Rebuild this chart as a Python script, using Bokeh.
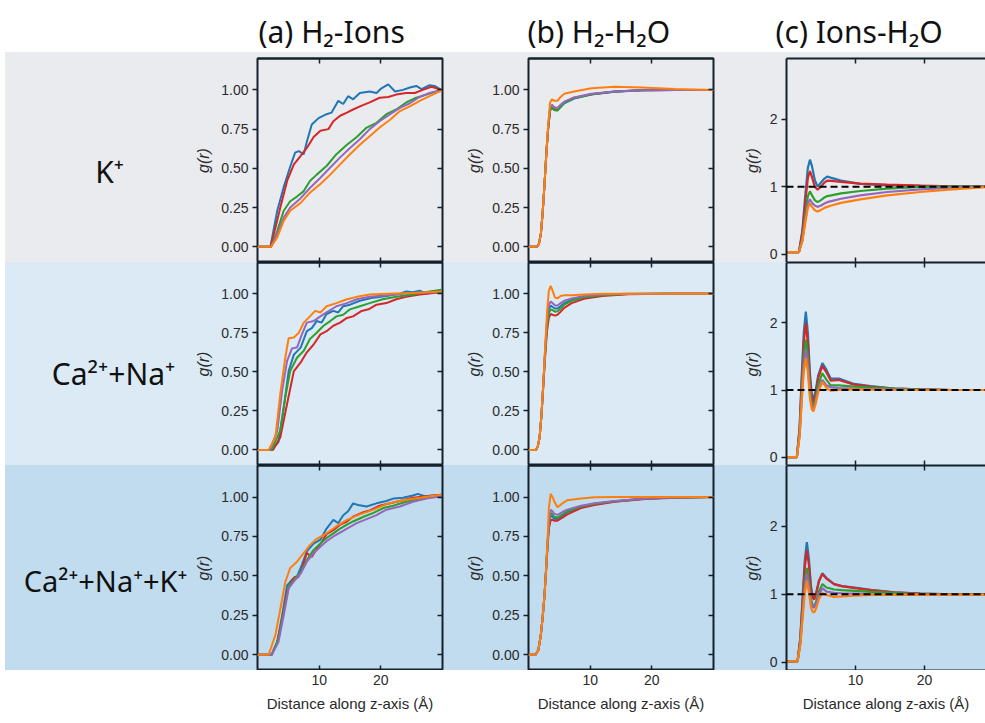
from bokeh.plotting import figure
from bokeh.layouts import row, column
from bokeh.models import Range1d, FixedTicker, LinearAxis, Span, Spacer, PrintfTickFormatter, Label
from bokeh.embed import file_html
from bokeh.resources import INLINE

# ---------------------------------------------------------------- labels
COLUMN_TITLES = ["(a) H₂-Ions", "(b) H₂-H₂O", "(c) Ions-H₂O"]
ROW_LABELS = ["K⁺", "Ca²⁺+Na⁺", "Ca²⁺+Na⁺+K⁺"]
X_LABEL = "Distance along z-axis (Å)"
Y_LABEL = "g(r)"
X_TICKS = [10, 20]
G_TICKS_AB = [0, 0.25, 0.5, 0.75, 1.0]
G_TICKS_C = [0, 1, 2]
SERIES = ["blue", "red", "green", "purple", "orange"]
COLORS = {"blue": "#1f77b4", "red": "#d62728", "green": "#2ca02c",
          "purple": "#9467bd", "orange": "#ff7f0e"}

# ---------------------------------------------------------------- (a) H2-Ions
a1_blue_x = [0, 2.1, 3.2, 4.25, 5.3, 6.1, 6.7, 7.5, 8.0, 8.8, 9.9, 11.2, 12.0, 13.1, 13.9, 14.7, 15.5, 16.6, 18.2, 19.3,
             20.1, 21.2, 22.3, 23.6, 24.7, 25.75, 26.6, 27.9, 28.7, 29.8]
a1_blue_g = [0, 0, 0.23, 0.38, 0.51, 0.60, 0.61, 0.59, 0.67, 0.78, 0.82, 0.845, 0.855, 0.93, 0.91, 0.96, 0.94, 0.98, 0.99, 0.98,
             1.01, 1.035, 0.99, 1.0, 1.015, 1.025, 1.005, 1.03, 1.025, 1.0]
a1_red_x = [0, 2.1, 2.9, 3.7, 4.8, 5.9, 7.0, 8.0, 9.1, 10.2, 11.5, 12.3, 13.4, 14.5, 15.5, 16.9, 18.2, 19.8, 21.2, 22.5,
            24.1, 25.5, 26.8, 28.2, 29.8]
a1_red_g = [0, 0, 0.12, 0.25, 0.42, 0.525, 0.58, 0.63, 0.70, 0.74, 0.75, 0.80, 0.835, 0.855, 0.875, 0.90, 0.92, 0.95, 0.955, 0.97,
            0.98, 0.98, 1.0, 1.02, 1.0]
a1_green_x = [0, 2.2, 3.2, 4.25, 5.3, 6.4, 7.5, 8.5, 9.6, 11.2, 12.8, 14.5, 16.1, 17.7, 19.3, 20.9, 22.5, 24.1, 25.75, 27.4, 29.8]
a1_green_g = [0, 0, 0.10, 0.23, 0.29, 0.32, 0.355, 0.42, 0.46, 0.515, 0.59, 0.65, 0.70, 0.76, 0.79, 0.845, 0.875, 0.92, 0.95, 0.97, 1.0]
a1_purple_x = [0, 2.2, 3.2, 4.25, 5.3, 7.0, 8.5, 10.2, 11.8, 13.4, 15.0, 16.6, 18.2, 19.8, 21.5, 23.1, 24.7, 26.3, 27.9, 29.8]
a1_purple_g = [0, 0, 0.08, 0.185, 0.25, 0.31, 0.375, 0.44, 0.505, 0.57, 0.63, 0.685, 0.75, 0.80, 0.845, 0.885, 0.915, 0.955, 0.98, 1.0]
a1_orange_x = [0, 2.2, 3.2, 4.25, 5.3, 7.0, 8.5, 10.2, 11.8, 13.4, 15.0, 16.6, 18.2, 19.8, 21.5, 23.1, 24.7, 26.3, 27.9, 29.8]
a1_orange_g = [0, 0, 0.06, 0.165, 0.23, 0.28, 0.345, 0.40, 0.46, 0.525, 0.59, 0.65, 0.705, 0.76, 0.81, 0.865, 0.895, 0.93, 0.96, 0.995]

a2_blue_x = [0, 2.3, 3.4, 4.25, 5.05, 5.9, 7.0, 8.0, 8.8, 9.6, 10.4, 11.2, 12.3, 13.1, 13.9, 15.0, 16.6, 18.8, 20.9, 23.1,
             24.1, 25.2, 26.3, 27.4, 28.4, 29.8]
a2_blue_g = [0, 0, 0.05, 0.27, 0.505, 0.61, 0.655, 0.76, 0.78, 0.825, 0.815, 0.87, 0.89, 0.88, 0.92, 0.93, 0.955, 0.975, 0.985, 1.0,
             1.015, 1.01, 1.02, 1.0, 1.015, 1.015]
a2_red_x = [0, 2.5, 3.7, 4.8, 5.9, 7.0, 8.0, 9.1, 10.2, 11.2, 12.3, 13.4, 14.5, 15.5, 16.9, 18.0, 19.3, 20.9, 22.5, 24.1, 26.3, 29.8]
a2_red_g = [0, 0, 0.08, 0.295, 0.505, 0.56, 0.625, 0.675, 0.74, 0.76, 0.795, 0.815, 0.845, 0.855, 0.89, 0.90, 0.93, 0.94, 0.965, 0.98, 0.995, 1.01]
a2_green_x = [0, 2.3, 3.7, 4.5, 5.3, 6.4, 7.5, 8.5, 9.6, 10.7, 11.8, 12.8, 13.9, 15.0, 16.6, 18.2, 20.3, 22.5, 25.2, 27.9, 29.8]
a2_green_g = [0, 0, 0.125, 0.335, 0.505, 0.59, 0.635, 0.71, 0.75, 0.795, 0.825, 0.855, 0.865, 0.90, 0.92, 0.94, 0.965, 0.98, 0.995, 1.015, 1.025]
a2_purple_x = [0, 2.0, 3.2, 4.0, 4.8, 5.6, 6.4, 7.2, 8.0, 9.1, 10.2, 11.2, 12.8, 14.5, 16.1, 18.2, 20.9, 25.2, 29.8]
a2_purple_g = [0, 0, 0.12, 0.38, 0.57, 0.65, 0.655, 0.74, 0.815, 0.825, 0.855, 0.88, 0.92, 0.94, 0.965, 0.98, 0.99, 1.005, 1.01]
a2_orange_x = [0, 1.8, 2.9, 3.7, 4.5, 5.05, 5.9, 6.7, 7.5, 8.5, 9.35, 10.2, 11.2, 12.8, 14.5, 16.1, 18.2, 20.9, 25.2, 29.8]
a2_orange_g = [0, 0, 0.08, 0.36, 0.59, 0.715, 0.72, 0.75, 0.815, 0.855, 0.89, 0.88, 0.92, 0.94, 0.965, 0.98, 0.995, 1.0, 1.005, 1.015]

a3_blue_x = [0, 2.3, 3.2, 4.0, 4.8, 5.6, 6.4, 7.2, 8.0, 9.1, 10.2, 11.2, 12.3, 13.1, 13.9, 14.7, 15.5, 16.3, 17.7, 19.3,
             20.9, 22.0, 23.6, 25.2, 26.0, 27.1, 28.4, 29.8]
a3_blue_g = [0, 0, 0.08, 0.25, 0.44, 0.475, 0.495, 0.57, 0.655, 0.705, 0.73, 0.80, 0.855, 0.835, 0.885, 0.91, 0.96, 0.95, 0.94, 0.96,
             0.975, 0.99, 0.995, 1.01, 1.02, 1.005, 1.01, 1.015]
a3_red_x = [0, 2.3, 3.2, 4.0, 4.8, 5.6, 6.1, 6.6, 7.2, 8.0, 8.8, 9.6, 10.4, 11.2, 12.3, 13.4, 14.5, 15.5, 16.9, 18.2,
            19.8, 21.5, 23.1, 25.2, 27.4, 29.8]
a3_red_g = [0, 0, 0.08, 0.23, 0.40, 0.475, 0.495, 0.49, 0.545, 0.645, 0.62, 0.67, 0.715, 0.765, 0.79, 0.825, 0.845, 0.875, 0.90, 0.915,
            0.945, 0.96, 0.975, 0.995, 1.005, 1.015]
a3_green_x = [0, 2.3, 3.4, 4.25, 5.05, 5.9, 7.0, 8.0, 9.1, 10.2, 11.2, 12.3, 13.4, 14.5, 15.5, 17.2, 18.8, 20.4, 22.0, 24.1, 26.3, 29.8]
a3_green_g = [0, 0, 0.10, 0.27, 0.43, 0.475, 0.525, 0.60, 0.665, 0.705, 0.74, 0.77, 0.80, 0.825, 0.845, 0.875, 0.90, 0.93, 0.945, 0.97, 0.99, 1.01]
a3_purple_x = [0, 2.3, 3.4, 4.25, 5.05, 5.9, 7.0, 8.0, 9.1, 10.2, 11.2, 12.3, 13.4, 14.5, 16.1, 17.7, 19.3, 20.9, 23.1, 25.2, 27.4, 29.8]
a3_purple_g = [0, 0, 0.08, 0.25, 0.42, 0.465, 0.515, 0.59, 0.645, 0.685, 0.72, 0.75, 0.775, 0.80, 0.835, 0.86, 0.885, 0.92, 0.94, 0.97, 0.99, 1.005]
a3_orange_x = [0, 1.8, 2.9, 3.7, 4.5, 5.3, 6.4, 7.5, 8.5, 9.6, 11.2, 12.8, 14.5, 16.6, 18.8, 20.9, 23.6, 26.3, 29.8]
a3_orange_g = [0, 0, 0.125, 0.29, 0.46, 0.55, 0.59, 0.645, 0.695, 0.735, 0.77, 0.815, 0.855, 0.89, 0.92, 0.955, 0.98, 0.995, 1.015]

# ---------------------------------------------------------------- (b) H2-H2O
b1_x = [0, 1.4, 1.7, 2.0, 2.3, 2.6, 2.9, 3.2, 3.5, 3.8, 4.2, 4.7, 5.2, 5.8, 7.4, 10.2, 14, 18.4, 23.8, 30]
b1_blue = [0, 0, 0.02, 0.08, 0.22, 0.40, 0.60, 0.76, 0.875, 0.89, 0.875, 0.87, 0.89, 0.915, 0.945, 0.97, 0.988, 0.997, 1.0, 1.0]
b1_red = [0, 0, 0.02, 0.08, 0.22, 0.40, 0.60, 0.76, 0.87, 0.885, 0.875, 0.875, 0.895, 0.92, 0.95, 0.972, 0.99, 0.998, 1.0, 1.0]
b1_green = [0, 0, 0.02, 0.08, 0.22, 0.40, 0.60, 0.76, 0.87, 0.885, 0.87, 0.868, 0.892, 0.918, 0.947, 0.972, 0.99, 0.997, 1.0, 1.0]
b1_purple = [0, 0, 0.02, 0.08, 0.22, 0.40, 0.60, 0.77, 0.89, 0.905, 0.89, 0.885, 0.905, 0.925, 0.952, 0.975, 0.99, 0.997, 1.0, 1.0]
b1_orange = [0, 0, 0.02, 0.08, 0.22, 0.40, 0.60, 0.78, 0.92, 0.94, 0.93, 0.93, 0.955, 0.975, 0.99, 1.01, 1.02, 1.015, 1.005, 1.0]

b2_x = [0, 1.2, 1.5, 1.8, 2.1, 2.4, 2.7, 3.0, 3.3, 3.6, 3.9, 4.3, 4.7, 5.2, 5.8, 7.0, 9.0, 12, 16, 22, 30]
b2_blue = [0, 0, 0.02, 0.08, 0.22, 0.42, 0.63, 0.81, 0.90, 0.925, 0.915, 0.905, 0.905, 0.92, 0.94, 0.96, 0.98, 0.992, 0.998, 1.0, 1.0]
b2_red = [0, 0, 0.02, 0.08, 0.22, 0.41, 0.60, 0.76, 0.845, 0.87, 0.865, 0.86, 0.865, 0.885, 0.91, 0.94, 0.968, 0.985, 0.996, 1.0, 1.0]
b2_green = [0, 0, 0.02, 0.08, 0.22, 0.42, 0.62, 0.79, 0.875, 0.90, 0.895, 0.885, 0.888, 0.905, 0.93, 0.955, 0.978, 0.99, 0.998, 1.0, 1.0]
b2_purple = [0, 0, 0.02, 0.08, 0.22, 0.42, 0.64, 0.83, 0.93, 0.95, 0.94, 0.925, 0.925, 0.94, 0.955, 0.97, 0.985, 0.995, 1.0, 1.0, 1.0]
b2_orange = [0, 0, 0.02, 0.08, 0.22, 0.42, 0.66, 0.88, 1.02, 1.05, 1.02, 0.975, 0.97, 0.985, 0.99, 0.99, 0.995, 1.0, 1.0, 1.0, 1.0]

b3_x = [0, 1.15, 1.6, 2.0, 2.3, 2.6, 2.85, 3.06, 3.3, 3.6, 3.9, 4.15, 4.7, 5.5, 6.3, 8.5, 10.7, 14, 19, 24, 30]
b3_blue = [0, 0, 0.03, 0.125, 0.24, 0.38, 0.54, 0.68, 0.82, 0.885, 0.875, 0.862, 0.86, 0.88, 0.905, 0.935, 0.955, 0.972, 0.99, 0.997, 1.0]
b3_red = [0, 0, 0.03, 0.125, 0.24, 0.38, 0.53, 0.67, 0.80, 0.855, 0.855, 0.85, 0.85, 0.87, 0.89, 0.93, 0.95, 0.97, 0.988, 0.996, 1.0]
b3_green = [0, 0, 0.03, 0.125, 0.24, 0.38, 0.54, 0.69, 0.83, 0.898, 0.89, 0.875, 0.87, 0.89, 0.91, 0.94, 0.958, 0.974, 0.99, 0.997, 1.0]
b3_purple = [0, 0, 0.03, 0.125, 0.24, 0.38, 0.54, 0.69, 0.84, 0.92, 0.91, 0.895, 0.887, 0.905, 0.92, 0.945, 0.96, 0.975, 0.99, 0.997, 1.0]
b3_orange = [0, 0, 0.03, 0.125, 0.24, 0.38, 0.54, 0.70, 0.93, 1.02, 1.0, 0.975, 0.935, 0.96, 0.98, 0.99, 0.998, 1.0, 1.0, 1.0, 1.0]

# ---------------------------------------------------------------- (c) Ions-H2O
c1_x = [0, 1.8, 2.3, 2.7, 3.1, 3.4, 3.7, 4.1, 4.5, 5.0, 5.5, 5.9, 6.5, 7.9, 10.7, 14.6, 19.4, 24, 30]
c1_blue = [0.03, 0.03, 0.35, 0.85, 1.28, 1.40, 1.30, 1.10, 1.00, 1.06, 1.12, 1.15, 1.13, 1.09, 1.04, 1.02, 1.01, 1.0, 1.0]
c1_red = [0.03, 0.03, 0.31, 0.74, 1.13, 1.23, 1.14, 1.00, 0.955, 1.0, 1.06, 1.09, 1.085, 1.07, 1.045, 1.03, 1.015, 1.005, 1.0]
c1_green = [0.03, 0.03, 0.23, 0.56, 0.86, 0.93, 0.87, 0.80, 0.77, 0.80, 0.84, 0.86, 0.87, 0.90, 0.935, 0.97, 0.995, 1.0, 1.0]
c1_purple = [0.03, 0.03, 0.20, 0.49, 0.75, 0.81, 0.76, 0.72, 0.70, 0.72, 0.75, 0.77, 0.785, 0.82, 0.87, 0.92, 0.96, 0.985, 1.0]
c1_orange = [0.03, 0.03, 0.19, 0.45, 0.69, 0.75, 0.70, 0.65, 0.63, 0.655, 0.685, 0.70, 0.72, 0.76, 0.81, 0.87, 0.92, 0.96, 1.0]

c2_x = [0, 1.5, 1.9, 2.2, 2.5, 2.8, 3.1, 3.4, 3.65, 3.9, 4.2, 4.6, 5.2, 5.8, 6.4, 7.6, 9.8, 12.2, 15.6, 19.4, 24, 30]
c2_blue = [0, 0, 0.45, 1.2, 1.85, 2.17, 1.85, 1.25, 0.95, 0.85, 0.98, 1.22, 1.40, 1.30, 1.17, 1.17, 1.09, 1.06, 1.02, 1.01, 1.0, 1.0]
c2_red = [0, 0, 0.41, 1.1, 1.7, 2.0, 1.7, 1.15, 0.88, 0.80, 0.93, 1.18, 1.36, 1.26, 1.14, 1.15, 1.08, 1.05, 1.02, 1.01, 1.0, 1.0]
c2_green = [0, 0, 0.36, 0.97, 1.5, 1.75, 1.5, 1.02, 0.80, 0.75, 0.86, 1.08, 1.25, 1.15, 1.07, 1.07, 1.05, 1.035, 1.02, 1.005, 1.0, 1.0]
c2_purple = [0, 0, 0.33, 0.88, 1.37, 1.60, 1.37, 0.94, 0.76, 0.72, 0.82, 1.01, 1.15, 1.07, 1.04, 1.03, 1.02, 1.015, 1.01, 1.0, 1.0, 1.0]
c2_orange = [0, 0, 0.30, 0.82, 1.27, 1.48, 1.27, 0.88, 0.72, 0.68, 0.78, 0.97, 1.12, 1.03, 0.99, 1.0, 1.01, 1.005, 1.0, 1.0, 1.0, 1.0]

c3_x = [0, 1.6, 2.0, 2.35, 2.65, 2.95, 3.25, 3.55, 3.8, 4.0, 4.3, 4.7, 5.2, 5.8, 6.9, 8.0, 9.9, 12.2, 15.6, 19.4, 24, 30]
c3_blue = [0.01, 0.01, 0.36, 0.98, 1.5, 1.77, 1.52, 1.12, 0.97, 0.93, 1.02, 1.2, 1.31, 1.24, 1.15, 1.12, 1.10, 1.065, 1.03, 1.01, 1.0, 1.0]
c3_red = [0.01, 0.01, 0.34, 0.92, 1.4, 1.65, 1.43, 1.07, 0.95, 0.92, 1.01, 1.19, 1.30, 1.23, 1.15, 1.12, 1.09, 1.06, 1.03, 1.01, 1.0, 1.0]
c3_green = [0.01, 0.01, 0.29, 0.77, 1.18, 1.39, 1.2, 0.92, 0.84, 0.82, 0.89, 1.04, 1.15, 1.10, 1.07, 1.06, 1.05, 1.035, 1.02, 1.0, 1.0, 1.0]
c3_purple = [0.01, 0.01, 0.27, 0.72, 1.1, 1.30, 1.12, 0.88, 0.81, 0.80, 0.86, 0.99, 1.09, 1.04, 1.02, 1.015, 1.01, 1.0, 1.0, 0.995, 0.995, 0.995]
c3_orange = [0.01, 0.01, 0.25, 0.67, 1.02, 1.20, 1.03, 0.80, 0.74, 0.73, 0.79, 0.93, 1.02, 0.99, 0.96, 0.97, 0.98, 0.99, 0.99, 0.99, 0.99, 0.99]

# per-panel series tables (row-major), built from the lists above
PANELS = [
    [
        {"blue": (a1_blue_x, a1_blue_g), "red": (a1_red_x, a1_red_g), "green": (a1_green_x, a1_green_g),
         "purple": (a1_purple_x, a1_purple_g), "orange": (a1_orange_x, a1_orange_g)},
        {s: (b1_x, v) for s, v in zip(SERIES, [b1_blue, b1_red, b1_green, b1_purple, b1_orange])},
        {s: (c1_x, v) for s, v in zip(SERIES, [c1_blue, c1_red, c1_green, c1_purple, c1_orange])},
    ],
    [
        {"blue": (a2_blue_x, a2_blue_g), "red": (a2_red_x, a2_red_g), "green": (a2_green_x, a2_green_g),
         "purple": (a2_purple_x, a2_purple_g), "orange": (a2_orange_x, a2_orange_g)},
        {s: (b2_x, v) for s, v in zip(SERIES, [b2_blue, b2_red, b2_green, b2_purple, b2_orange])},
        {s: (c2_x, v) for s, v in zip(SERIES, [c2_blue, c2_red, c2_green, c2_purple, c2_orange])},
    ],
    [
        {"blue": (a3_blue_x, a3_blue_g), "red": (a3_red_x, a3_red_g), "green": (a3_green_x, a3_green_g),
         "purple": (a3_purple_x, a3_purple_g), "orange": (a3_orange_x, a3_orange_g)},
        {s: (b3_x, v) for s, v in zip(SERIES, [b3_blue, b3_red, b3_green, b3_purple, b3_orange])},
        {s: (c3_x, v) for s, v in zip(SERIES, [c3_blue, c3_red, c3_green, c3_purple, c3_orange])},
    ],
]

# ---------------------------------------------------------------- layout / style
W_TOTAL, H_HEADER, H_FOOT = 985, 52, 53
LABEL_W = 185
COL_W = 265
BORDER_L = [67, 73, 66]
BORDER_R = [13, 7, 0]
X_END = [30, 30, 28.85]
ROW_H = [210, 203, 205]
BORDER_T = [6, 0, 0]
BAND = ["#eaebef", "#dbeaf5", "#c1dcef"]
FRAME = "#14202b"
TICK_FONT = "Liberation Sans"
TEXT_FONT = "Noto Sans"

x_ranges = [Range1d(0, X_END[c]) for c in range(3)]


def tick_only_axis(p, side, ticks):
    ax = LinearAxis(ticker=FixedTicker(ticks=ticks))
    ax.major_tick_in = 5
    ax.major_tick_out = 0
    ax.minor_tick_line_color = None
    ax.major_tick_line_color = FRAME
    ax.major_tick_line_width = 1.5
    ax.major_label_text_font_size = "0px"
    ax.major_label_standoff = 0
    ax.major_label_overrides = {t: "" for t in ticks}
    ax.axis_line_color = FRAME if side != "right" else None
    ax.axis_line_width = 2
    p.add_layout(ax, side)
    return ax


def make_panel(r, c):
    is_c = c == 2
    yr = Range1d(-0.125, 2.9) if is_c else Range1d(-0.1, 1.2)
    p = figure(width=COL_W, height=ROW_H[r], x_range=x_ranges[c], y_range=yr,
               output_backend="svg", toolbar_location=None, title=None,
               x_axis_location=None, y_axis_location=None,
               min_border_left=BORDER_L[c], min_border_right=BORDER_R[c],
               min_border_top=BORDER_T[r], min_border_bottom=0)
    p.background_fill_color = BAND[r]
    p.border_fill_color = BAND[r]
    p.xgrid.visible = False
    p.ygrid.visible = False
    if is_c:
        p.outline_line_color = None
    else:
        p.outline_line_color = FRAME
        p.outline_line_width = 2

    ticks = G_TICKS_C if is_c else G_TICKS_AB
    ax = LinearAxis(ticker=FixedTicker(ticks=ticks),
                    formatter=PrintfTickFormatter(format="%d" if is_c else "%.2f"))
    ax.axis_label = Y_LABEL
    ax.axis_label_text_font = TICK_FONT
    ax.axis_label_text_font_size = "16px"
    ax.axis_label_text_font_style = "italic"
    ax.axis_label_text_color = "#2a2a2a"
    ax.axis_label_standoff = 6
    ax.major_label_text_font = TICK_FONT
    ax.major_label_text_font_size = "14px"
    ax.major_label_text_color = "#2a2a2a"
    ax.major_label_standoff = 4
    ax.major_tick_in = 0
    ax.major_tick_out = 5
    ax.major_tick_line_color = FRAME
    ax.major_tick_line_width = 1.5
    ax.minor_tick_line_color = None
    ax.axis_line_color = FRAME if is_c else None
    ax.axis_line_width = 2
    p.add_layout(ax, "left")

    tick_only_axis(p, "above", X_TICKS)
    tick_only_axis(p, "below", X_TICKS)
    if not is_c:
        tick_only_axis(p, "right", ticks)

    for s in SERIES:
        xs, gs = PANELS[r][c][s]
        p.line(xs, gs, line_color=COLORS[s], line_width=2.2 if is_c else 2.0)

    if is_c:
        p.add_layout(Span(location=1, dimension="width", line_color="black",
                          line_dash="7 4", line_width=2))
    return p


def make_row_label(r):
    p = figure(width=LABEL_W, height=ROW_H[r], x_range=Range1d(0, LABEL_W), y_range=Range1d(0, ROW_H[r]),
               output_backend="svg", toolbar_location=None, title=None,
               x_axis_location=None, y_axis_location=None, min_border=0)
    p.background_fill_color = BAND[r]
    p.border_fill_color = BAND[r]
    p.outline_line_color = None
    p.xgrid.visible = False
    p.ygrid.visible = False
    x_mid = [104, 108, 100][r]
    y_base = [94, 92, 90][r]
    size = ["30px", "30px", "29px"][r]
    p.add_layout(Label(x=x_mid, y=y_base, text=ROW_LABELS[r], text_align="center",
                       text_baseline="alphabetic", text_font=TEXT_FONT,
                       text_font_size=size, text_color="#111111"))
    return p


def make_footer(c):
    p = figure(width=COL_W, height=H_FOOT, x_range=x_ranges[c], y_range=Range1d(0, 1),
               output_backend="svg", toolbar_location=None, title=None,
               x_axis_location=None, y_axis_location=None,
               min_border_left=BORDER_L[c], min_border_right=BORDER_R[c],
               min_border_top=0, min_border_bottom=H_FOOT - 1)
    p.background_fill_color = "white"
    p.border_fill_color = "white"
    p.outline_line_color = None
    p.xgrid.visible = False
    p.ygrid.visible = False
    ax = LinearAxis(ticker=FixedTicker(ticks=X_TICKS), formatter=PrintfTickFormatter(format="%d"))
    ax.axis_line_color = None
    ax.major_tick_in = 0
    ax.major_tick_out = 0
    ax.minor_tick_line_color = None
    ax.major_label_text_font = TICK_FONT
    ax.major_label_text_font_size = "14px"
    ax.major_label_text_color = "#2a2a2a"
    ax.major_label_standoff = 3
    ax.axis_label = X_LABEL
    ax.axis_label_text_font = TICK_FONT
    ax.axis_label_text_font_size = "15px"
    ax.axis_label_text_font_style = "normal"
    ax.axis_label_text_color = "#2a2a2a"
    ax.axis_label_standoff = 7
    p.add_layout(ax, "below")
    return p


def make_header():
    p = figure(width=W_TOTAL, height=H_HEADER, x_range=Range1d(0, W_TOTAL), y_range=Range1d(0, H_HEADER),
               output_backend="svg", toolbar_location=None, title=None,
               x_axis_location=None, y_axis_location=None, min_border=0)
    p.background_fill_color = "white"
    p.border_fill_color = "white"
    p.outline_line_color = None
    p.xgrid.visible = False
    p.ygrid.visible = False
    for text, x0 in zip(COLUMN_TITLES, [258, 527, 775]):
        p.add_layout(Label(x=x0, y=21, text=text, text_align="left", text_baseline="alphabetic",
                           text_font=TEXT_FONT, text_font_size="30px", text_color="#111111"))
    return p


rows = [make_header()]
for r in range(3):
    band_row = row(make_row_label(r), make_panel(r, 0), make_panel(r, 1), make_panel(r, 2),
                   styles={"background-color": BAND[r]})
    rows.append(row(Spacer(width=5, height=ROW_H[r]), band_row))
rows.append(row(Spacer(width=5 + LABEL_W, height=H_FOOT), make_footer(0), make_footer(1), make_footer(2)))

layout = column(*rows)

open("out.html", "w").write(file_html(layout, INLINE))
